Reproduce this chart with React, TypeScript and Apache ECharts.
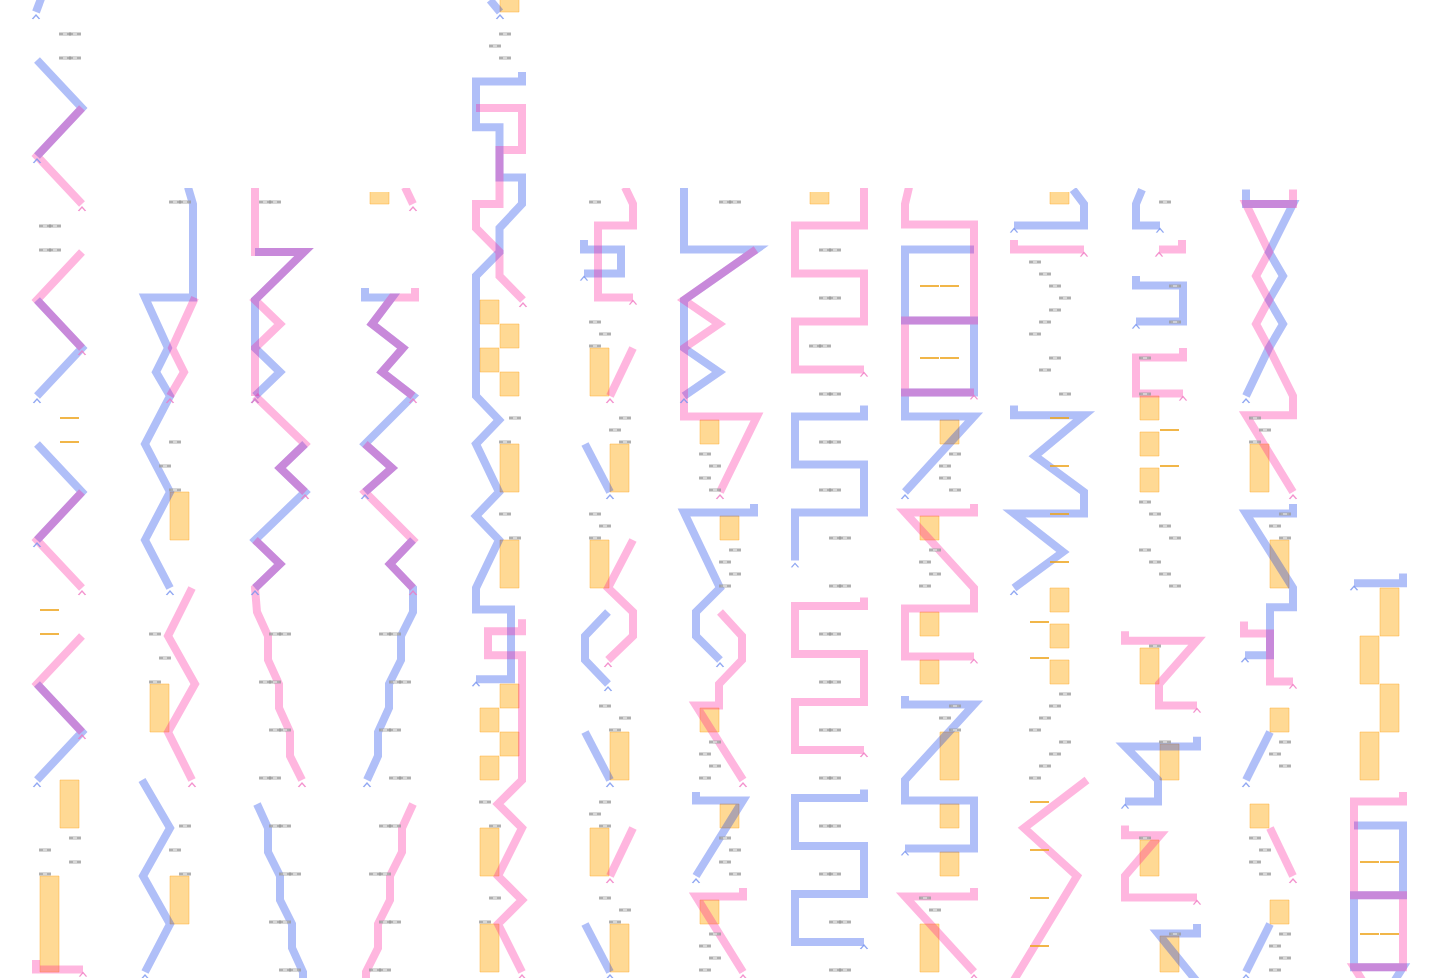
import { useEffect, useRef } from "react";
import * as echarts from "echarts";

type P = [number, number];

const W = 1440;
const H = 978;
const SLOT_A = 1.45;
const SLOT_B = 3.45;

// top edge (px) of each of the 13 columns
const gridTops = [0, 192, 192, 192, 0, 192, 192, 192, 192, 192, 192, 192, 576];

// [column, points [lanePos, row]]
const blueTracks: [number, P[]][] = [
  [0, [[1, -1], [0.1, 0]]],
  [0, [[0.2, 2], [4.7, 4], [0.2, 6]]],
  [0, [[0.2, 12], [4.7, 14], [0.2, 16]]],
  [0, [[0.2, 18], [4.7, 20], [0.2, 22]]],
  [0, [[0.2, 28], [4.7, 30], [0.2, 32]]],
  [1, [[4.3, 7.3], [4.8, 8], [4.8, 11.9], [0, 11.9], [2.3, 14], [1.1, 15], [2.5, 16], [0, 18], [2.5, 20], [0, 22], [2.5, 24]]],
  [1, [[-0.3, 32], [2.5, 34], [-0.2, 36], [2.5, 38], [0, 40]]],
  [2, [[0, 10], [4.9, 10], [0, 12], [0, 14], [2.5, 15], [0, 16]]],
  [2, [[5, 18], [2.5, 19], [5, 20], [0, 22], [2.5, 23], [0, 24]]],
  [2, [[0.2, 33], [1.3, 34], [1.3, 35], [2.5, 36], [2.5, 37], [3.7, 38], [3.7, 39], [4.8, 40], [4.8, 41]]],
  [3, [[0, 11.5], [0, 11.9], [2.7, 11.9], [0.7, 13], [3.8, 14], [1.7, 15], [4.8, 16], [0, 18], [2.7, 19], [0, 20]]],
  [3, [[4.8, 22], [2.5, 23], [4.8, 24], [4.8, 25], [3.6, 26], [3.6, 27], [2.4, 28], [2.4, 29], [1.3, 30], [1.3, 31], [0.2, 32]]],
  [4, [[1.5, -0.5], [2.5, 0]]],
  [4, [[4.7, 2.5], [4.7, 2.9], [0.1, 2.9], [0.1, 4.8], [2.45, 4.8], [2.45, 6.9], [4.7, 6.9], [4.7, 8], [2.45, 9], [2.45, 10], [0.1, 11], [0.1, 16], [2.4, 17], [0.1, 18], [2.4, 20], [0.1, 21], [2.4, 22], [0.1, 24], [0.1, 24.9], [3.6, 24.9], [3.6, 27.8], [0.1, 27.8]]],
  [5, [[-0.1, 9.5], [-0.1, 9.9], [3.6, 9.9], [3.6, 10.9], [-0.1, 10.9]]],
  [5, [[0, 18], [2.5, 20]]],
  [5, [[2.3, 25], [0, 26], [0, 27], [2.3, 28]]],
  [5, [[0, 30], [2.5, 32]]],
  [5, [[0, 38], [2.5, 40]]],
  [6, [[-1.1, 7.3], [-1.1, 9.9], [6.1, 9.9], [-1.1, 12], [-1.1, 14], [2.4, 15], [-1.1, 16]]],
  [6, [[5.9, 20.5], [5.9, 20.85], [-1.1, 20.85], [2.5, 24], [0.1, 25], [0.1, 26], [2.5, 27]]],
  [6, [[0.1, 32.5], [0.1, 32.85], [4.8, 32.85], [0.1, 36]]],
  [7, [[5.9, 16.4], [5.9, 16.85], [-1, 16.85], [-1, 18.85], [5.9, 18.85], [5.9, 20.85], [-1, 20.85], [-1, 22.85]]],
  [7, [[5.9, 32.4], [5.9, 32.75], [-1, 32.75], [-1, 34.75], [5.9, 34.75], [5.9, 36.75], [-1, 36.75], [-1, 38.75], [5.9, 38.75]]],
  [8, [[5.9, 9.9], [-1, 9.9], [-1, 12.85], [5.9, 12.85], [5.9, 15.85], [-1, 15.85], [-1, 16.85], [5.9, 16.85], [-1, 20]]],
  [8, [[-1, 28.5], [-1, 28.85], [5.9, 28.85], [-1, 32], [-1, 32.85], [5.9, 32.85], [5.9, 34.85], [-1, 34.85]]],
  [9, [[4.8, 7.4], [5.9, 8], [5.9, 8.9], [-1.1, 8.9]]],
  [9, [[-1.1, 16.4], [-1.1, 16.8], [5.9, 16.8], [1.0, 18.5], [5.9, 20], [5.9, 20.9], [-1.1, 20.9], [3.8, 22.5], [-1.1, 24]]],
  [10, [[0.7, 7.4], [0.1, 8], [0.1, 8.9], [2.5, 8.9]]],
  [10, [[0.1, 11], [0.1, 11.4], [4.8, 11.4], [4.8, 12.9], [0.1, 12.9]]],
  [10, [[6.2, 30.2], [6.2, 30.6], [-1, 30.6], [2.3, 32], [2.3, 32.9], [-1, 32.9]]],
  [10, [[6.2, 38], [6.2, 38.4], [2.3, 38.4], [6.2, 40.4]]],
  [11, [[0.1, 7.4], [0.1, 8], [4.8, 8], [2.4, 10], [3.8, 11], [2.4, 12], [3.8, 13], [2.4, 14], [0.1, 16]]],
  [11, [[4.8, 20.5], [4.8, 20.9], [0.1, 20.9], [4.8, 24], [4.8, 24.8], [2.5, 24.8], [2.5, 26.8], [0, 26.8]]],
  [11, [[2.5, 30], [0.1, 32]]],
  [11, [[2.5, 38], [0.1, 40]]],
  [12, [[4.8, 23.4], [4.8, 23.8], [-0.1, 23.8]]],
  [12, [[-0.1, 33.9], [4.8, 33.9], [4.8, 36.8], [-0.1, 36.8], [-0.1, 39.8], [4.8, 39.8], [3.6, 40.6]]],
];

const pinkTracks: [number, P[]][] = [
  [0, [[4.7, 4], [0.2, 6], [4.7, 8]]],
  [0, [[4.7, 10], [0.2, 12], [4.7, 14]]],
  [0, [[4.7, 20], [0.2, 22], [4.7, 24]]],
  [0, [[4.7, 26], [0.2, 28], [4.7, 30]]],
  [0, [[0.1, 39.5], [0.1, 39.9], [4.8, 39.9]]],
  [1, [[5, 11.9], [2.7, 14], [3.9, 15], [2.5, 16]]],
  [1, [[4.7, 24], [2.3, 26], [5, 28], [2.3, 30], [4.7, 32]]],
  [2, [[0, 7.3], [0, 10], [4.9, 10], [0, 12], [2.5, 13], [0, 14], [0, 16]]],
  [2, [[0, 16], [5, 18], [2.5, 19], [5, 20]]],
  [2, [[0, 22], [2.5, 23], [0, 24], [0.2, 25], [1.3, 26], [1.3, 27], [2.4, 28], [2.4, 29], [3.5, 30], [3.5, 31], [4.7, 32]]],
  [3, [[4.0, 7.3], [4.8, 8]]],
  [3, [[5, 11.5], [5, 11.9], [2.7, 11.9], [0.7, 13], [3.8, 14], [1.7, 15], [4.8, 16]]],
  [3, [[0, 18], [2.7, 19], [0, 20], [4.8, 22], [2.5, 23], [4.8, 24]]],
  [3, [[4.8, 33], [3.7, 34], [3.7, 35], [2.5, 36], [2.5, 37], [1.3, 38], [1.3, 39], [0.1, 40], [0.1, 41]]],
  [4, [[0.1, 4], [4.7, 4], [4.7, 5.75], [2.45, 5.75], [2.45, 8], [0.1, 8], [0.1, 9], [2.45, 10], [2.45, 11], [4.8, 12]]],
  [4, [[4.7, 25.3], [4.7, 25.8], [1.3, 25.8], [1.3, 26.8], [4.7, 26.8], [4.7, 32], [2.3, 33], [4.7, 34], [2.3, 36], [4.7, 37], [2.3, 38], [4.7, 40]]],
  [5, [[4.0, 7.3], [4.8, 8], [4.8, 8.9], [1.3, 8.9], [1.3, 11.9], [4.8, 11.9]]],
  [5, [[4.8, 14], [2.5, 16]]],
  [5, [[4.8, 22], [2.3, 24], [4.8, 25], [4.8, 26], [2.3, 27]]],
  [5, [[4.8, 34], [2.5, 36]]],
  [6, [[6.1, 9.9], [-1.1, 12], [2.4, 13], [-1.1, 14], [-1.1, 16.85], [6.2, 16.85], [2.5, 20]]],
  [6, [[2.5, 25], [4.7, 26], [4.7, 27], [2.4, 28], [2.4, 28.9], [0.1, 28.9], [4.8, 32]]],
  [6, [[4.8, 36.5], [4.8, 36.85], [0.1, 36.85], [4.8, 40]]],
  [7, [[5.9, 7.3], [5.9, 8.9], [-1, 8.9], [-1, 10.9], [5.9, 10.9], [5.9, 12.9], [-1, 12.9], [-1, 14.9], [5.9, 14.9]]],
  [7, [[5.9, 24.4], [5.9, 24.75], [-1, 24.75], [-1, 26.75], [5.9, 26.75], [5.9, 28.75], [-1, 28.75], [-1, 30.75], [5.9, 30.75]]],
  [8, [[-0.6, 7.3], [-1, 8], [-1, 8.85], [5.9, 8.85], [5.9, 12.85], [-1, 12.85], [-1, 15.85], [5.9, 15.85]]],
  [8, [[5.9, 20.5], [5.9, 20.85], [-1, 20.85], [5.9, 24], [5.9, 24.85], [-1, 24.85], [-1, 26.85], [5.9, 26.85]]],
  [8, [[5.9, 36.5], [5.9, 36.85], [-1, 36.85], [5.9, 40]]],
  [9, [[-1.1, 9.5], [-1.1, 9.9], [5.9, 9.9]]],
  [9, [[6.2, 32], [-0.1, 34], [5.2, 36], [-1.2, 40.4]]],
  [10, [[4.7, 9.5], [4.7, 9.9], [2.4, 9.9]]],
  [10, [[4.8, 14], [4.8, 14.4], [0.1, 14.4], [0.1, 15.9], [4.8, 15.9]]],
  [10, [[-1, 25.8], [-1, 26.2], [6.2, 26.2], [2.4, 28], [2.4, 28.9], [6.2, 28.9]]],
  [10, [[-1, 33.9], [-1, 34.3], [2.5, 34.3], [-1, 36], [-1, 36.9], [6.2, 36.9]]],
  [11, [[4.8, 7.4], [4.8, 8], [0.1, 8], [2.4, 10], [1.1, 11], [2.4, 12], [1.1, 13], [2.4, 14], [4.8, 16], [4.8, 16.8], [0.1, 16.8], [4.8, 20]]],
  [11, [[-0.1, 25.4], [-0.1, 25.9], [2.5, 25.9], [2.5, 27.9], [4.8, 27.9]]],
  [11, [[2.5, 34], [4.8, 36]]],
  [12, [[4.8, 32.5], [4.8, 32.9], [-0.1, 32.9], [-0.1, 36.8], [4.8, 36.8], [4.8, 39.8], [-0.1, 39.8], [1.1, 40.6]]],
];

// [column, slot centre, row start, row end]
const bars: [number, number, number, number][] = [
  [0, SLOT_B, 32, 34], [0, SLOT_A, 36, 40],
  [1, SLOT_B, 20, 22], [1, SLOT_A, 28, 30], [1, SLOT_B, 36, 38],
  [3, SLOT_A, 7, 8],
  [4, SLOT_B, -1, 0], [4, SLOT_A, 12, 13], [4, SLOT_B, 13, 14], [4, SLOT_A, 14, 15], [4, SLOT_B, 15, 16],
  [4, SLOT_B, 18, 20], [4, SLOT_B, 22, 24], [4, SLOT_B, 28, 29], [4, SLOT_A, 29, 30], [4, SLOT_B, 30, 31],
  [4, SLOT_A, 31, 32], [4, SLOT_A, 34, 36], [4, SLOT_A, 38, 40],
  [5, SLOT_A, 14, 16], [5, SLOT_B, 18, 20], [5, SLOT_A, 22, 24], [5, SLOT_B, 30, 32], [5, SLOT_A, 34, 36], [5, SLOT_B, 38, 40],
  [6, SLOT_A, 17, 18], [6, SLOT_B, 21, 22], [6, SLOT_A, 29, 30], [6, SLOT_B, 33, 34], [6, SLOT_A, 37, 38],
  [7, SLOT_A, 7, 8],
  [8, SLOT_B, 17, 18], [8, SLOT_A, 21, 22], [8, SLOT_A, 25, 26], [8, SLOT_A, 27, 28], [8, SLOT_B, 30, 32],
  [8, SLOT_B, 33, 34], [8, SLOT_B, 35, 36], [8, SLOT_A, 38, 40],
  [9, SLOT_B, 7, 8], [9, SLOT_B, 24, 25], [9, SLOT_B, 25.5, 26.5], [9, SLOT_B, 27, 28],
  [10, SLOT_A, 16, 17], [10, SLOT_A, 17.5, 18.5], [10, SLOT_A, 19, 20], [10, SLOT_A, 26.5, 28],
  [10, SLOT_B, 30.5, 32], [10, SLOT_A, 34.5, 36], [10, SLOT_B, 38.5, 40],
  [11, SLOT_A, 18, 20], [11, SLOT_B, 22, 24], [11, SLOT_B, 29, 30], [11, SLOT_A, 33, 34], [11, SLOT_B, 37, 38],
  [12, SLOT_B, 24, 26], [12, SLOT_A, 26, 28], [12, SLOT_B, 28, 30], [12, SLOT_A, 30, 32],
];

// small boxed tags: [column, lanePos, row]
const tags: [number, number, number][] = [
  [0, 3, 1], [0, 4, 1], [0, 3, 2], [0, 4, 2], [0, 1, 9], [0, 2, 9], [0, 1, 10], [0, 2, 10],
  [0, 4, 34.5], [0, 1, 35], [0, 4, 35.5], [0, 1, 36],
  [1, 3, 8], [1, 4, 8], [1, 3, 18], [1, 2, 19], [1, 3, 20], [1, 1, 26], [1, 2, 27], [1, 1, 28],
  [1, 4, 34], [1, 3, 35], [1, 4, 36],
  [2, 1, 8], [2, 2, 8], [2, 2, 26], [2, 3, 26], [2, 1, 28], [2, 2, 28], [2, 2, 30], [2, 3, 30],
  [2, 1, 32], [2, 2, 32], [2, 2, 34], [2, 3, 34], [2, 3, 36], [2, 4, 36], [2, 2, 38], [2, 3, 38],
  [2, 3, 40], [2, 4, 40],
  [3, 2, 26], [3, 3, 26], [3, 3, 28], [3, 4, 28], [3, 2, 30], [3, 3, 30], [3, 3, 32], [3, 4, 32],
  [3, 2, 34], [3, 3, 34], [3, 1, 36], [3, 2, 36], [3, 2, 38], [3, 3, 38], [3, 1, 40], [3, 2, 40],
  [4, 3, 1], [4, 2, 1.5], [4, 3, 2], [4, 4, 17], [4, 3, 18], [4, 3, 21], [4, 4, 22],
  [4, 1, 33], [4, 2, 34], [4, 2, 37], [4, 1, 38],
  [5, 1, 8], [5, 1, 13], [5, 2, 13.5], [5, 1, 14], [5, 4, 17], [5, 3, 17.5], [5, 4, 18],
  [5, 1, 21], [5, 2, 21.5], [5, 1, 22], [5, 2, 29], [5, 4, 29.5], [5, 3, 30],
  [5, 2, 33], [5, 1, 33.5], [5, 2, 34], [5, 2, 37], [5, 4, 37.5], [5, 3, 38],
  [6, 3, 8], [6, 4, 8], [6, 1, 18.5], [6, 2, 19], [6, 1, 19.5], [6, 2, 20],
  [6, 4, 22.5], [6, 3, 23], [6, 4, 23.5], [6, 3, 24], [6, 2, 30.5], [6, 1, 31], [6, 2, 31.5], [6, 1, 32],
  [6, 3, 34.5], [6, 4, 35], [6, 3, 35.5], [6, 4, 36], [6, 2, 38.5], [6, 1, 39], [6, 2, 39.5], [6, 1, 40],
  [7, 2, 10], [7, 3, 10], [7, 2, 12], [7, 3, 12], [7, 1, 14], [7, 2, 14], [7, 2, 16], [7, 3, 16],
  [7, 2, 18], [7, 3, 18], [7, 2, 20], [7, 3, 20], [7, 3, 22], [7, 4, 22], [7, 3, 24], [7, 4, 24],
  [7, 2, 26], [7, 3, 26], [7, 2, 28], [7, 3, 28], [7, 2, 30], [7, 3, 30], [7, 2, 32], [7, 3, 32],
  [7, 2, 34], [7, 3, 34], [7, 2, 36], [7, 3, 36], [7, 3, 38], [7, 4, 38], [7, 3, 40], [7, 4, 40],
  [8, 4, 18.5], [8, 3, 19], [8, 3, 19.5], [8, 4, 20], [8, 2, 22.5], [8, 1, 23], [8, 2, 23.5], [8, 1, 24],
  [8, 4, 29], [8, 3, 29.5], [8, 4, 30], [8, 1, 37], [8, 2, 37.5],
  [9, 1, 10.5], [9, 2, 11], [9, 3, 11.5], [9, 4, 12], [9, 3, 12.5], [9, 2, 13], [9, 1, 13.5],
  [9, 3, 14.5], [9, 2, 15], [9, 4, 16],
  [9, 4, 28.5], [9, 3, 29], [9, 2, 29.5], [9, 1, 30], [9, 4, 30.5], [9, 3, 31], [9, 2, 31.5], [9, 1, 32],
  [10, 3, 8], [10, 4, 11.5], [10, 4, 13], [10, 1, 14.5], [10, 1, 16],
  [10, 1, 20.5], [10, 2, 21], [10, 3, 21.5], [10, 4, 22], [10, 1, 22.5], [10, 2, 23], [10, 3, 23.5], [10, 4, 24],
  [10, 2, 26.5], [10, 3, 30.5], [10, 1, 34.5], [10, 4, 38.5],
  [11, 1, 17], [11, 2, 17.5], [11, 1, 18], [11, 4, 21], [11, 3, 21.5], [11, 4, 22],
  [11, 4, 30.5], [11, 3, 31], [11, 4, 31.5], [11, 1, 34.5], [11, 2, 35], [11, 1, 35.5], [11, 2, 36],
  [11, 4, 38.5], [11, 3, 39], [11, 4, 39.5], [11, 3, 40],
];

// flat orange marks: [column, slot centre, row]
const ticks: [number, number, number][] = [
  [0, SLOT_B, 17], [0, SLOT_B, 18], [0, SLOT_A, 25], [0, SLOT_A, 26],
  [8, SLOT_A, 11.5], [8, SLOT_B, 11.5], [8, SLOT_A, 14.5], [8, SLOT_B, 14.5],
  [9, SLOT_B, 17], [9, SLOT_B, 19], [9, SLOT_B, 21], [9, SLOT_B, 23],
  [9, SLOT_A, 25.5], [9, SLOT_A, 27], [9, SLOT_A, 33], [9, SLOT_A, 35], [9, SLOT_A, 37], [9, SLOT_A, 39],
  [10, SLOT_B, 17.5], [10, SLOT_B, 19],
  [12, SLOT_A, 35.5], [12, SLOT_B, 35.5], [12, SLOT_A, 38.5], [12, SLOT_B, 38.5],
];

const BLUE = "rgba(0,48,232,0.31)";
const PINK = "rgba(255,12,148,0.3)";
const BLUE_CARET = "#7592ef";
const PINK_CARET = "#f078c2";
const CARET = "path://M0,10 L10,0 L20,10";
const ROW_MAX = (H - 12) / 24;

function buildOption() {
  const grid = gridTops.map((t, c) => ({ left: 15 + 110 * c, top: t, width: 90, height: H - t }));
  const xAxis = gridTops.map((_, c) => ({ type: "value", gridIndex: c, min: -2, max: 7, show: false }));
  const yAxis = gridTops.map((t, c) => ({
    type: "value", gridIndex: c, min: (t - 12) / 24, max: ROW_MAX, inverse: true, show: false,
  }));
  const series: any[] = [];

  gridTops.forEach((_, c) => {
    series.push({
      type: "custom", xAxisIndex: c, yAxisIndex: c, clip: true, silent: true, z: 1,
      encode: { x: 0, y: [1, 2] },
      data: bars.filter((b) => b[0] === c).map((b) => [b[1], b[2], b[3]]),
      renderItem: (_p: any, api: any) => {
        const x = api.value(0);
        const a = api.coord([x - 0.95, api.value(1)]);
        const b = api.coord([x + 0.95, api.value(2)]);
        return {
          type: "rect",
          shape: { x: a[0], y: a[1], width: b[0] - a[0], height: b[1] - a[1] },
          style: { fill: "rgba(255,165,0,0.42)", stroke: "rgba(255,170,40,0.45)", lineWidth: 1 },
        };
      },
    });
  });

  const addTracks = (list: [number, P[]][], color: string, caretColor: string) => {
    list.forEach(([c, pts]) => {
      series.push({
        type: "line", xAxisIndex: c, yAxisIndex: c, data: pts, symbol: "none", showSymbol: false,
        silent: true, z: 2, clip: true,
        lineStyle: { width: 8, color, join: "miter", cap: "butt", miterLimit: 10 },
      });
    });
    gridTops.forEach((_, c) => {
      const ends = list
        .filter((t) => t[0] === c)
        .map((t) => t[1][t[1].length - 1])
        .filter((p) => p[1] <= ROW_MAX);
      if (!ends.length) return;
      series.push({
        type: "scatter", xAxisIndex: c, yAxisIndex: c, data: ends, silent: true, z: 6,
        symbol: CARET, symbolSize: [7, 4], symbolOffset: [0, 5],
        itemStyle: { color: "rgba(0,0,0,0)", borderColor: caretColor, borderWidth: 1.2 },
      });
    });
  };
  addTracks(blueTracks, BLUE, BLUE_CARET);
  addTracks(pinkTracks, PINK, PINK_CARET);

  gridTops.forEach((_, c) => {
    const tg = tags.filter((t) => t[0] === c).map((t) => [t[1], t[2]]);
    if (tg.length) {
      series.push({
        type: "scatter", xAxisIndex: c, yAxisIndex: c, data: tg, silent: true, z: 5,
        symbol: "rect", symbolSize: [8, 2], symbolOffset: [0, -2],
        itemStyle: { color: "#ffffff", borderColor: "#9c9c9c", borderWidth: 1 },
      });
    }
    const tk = ticks.filter((t) => t[0] === c).map((t) => [t[1], t[2]]);
    if (tk.length) {
      series.push({
        type: "scatter", xAxisIndex: c, yAxisIndex: c, data: tk, silent: true, z: 5,
        symbol: "rect", symbolSize: [19, 2], symbolOffset: [0, -2],
        itemStyle: { color: "#eea41c" },
      });
    }
  });

  return { animation: false, grid, xAxis, yAxis, series };
}

export default function App() {
  const ref = useRef<HTMLDivElement>(null);
  useEffect(() => {
    if (!ref.current) return;
    const chart = echarts.init(ref.current, undefined, { renderer: "svg" });
    chart.setOption(buildOption() as any);
    return () => chart.dispose();
  }, []);
  return (
    <div
      ref={ref}
      style={{ position: "fixed", left: 0, top: 0, width: W, height: H, background: "#fff" }}
    />
  );
}
